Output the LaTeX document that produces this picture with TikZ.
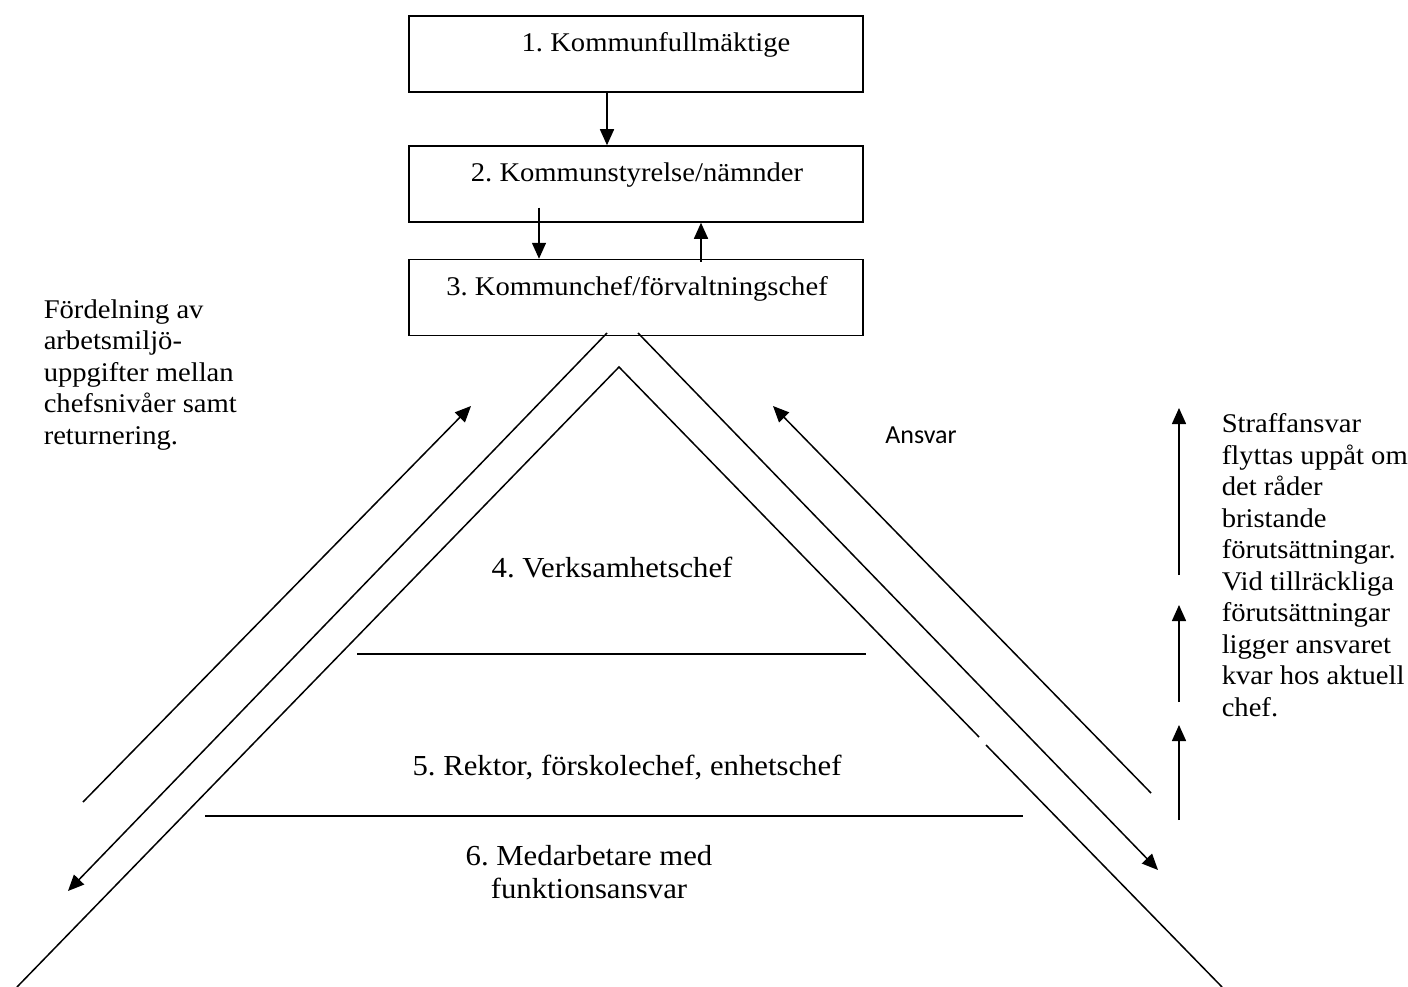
\documentclass[tikz,border=0pt]{standalone}
\usepackage{fontspec}
\setmainfont{Liberation Serif}[FakeStretch=1.06]
\newfontfamily\ansvarfont{Carlito}
\usetikzlibrary{arrows.meta}

\tikzset{
  levelbox/.style={draw, line width=1.5pt, minimum width=454pt, minimum height=76pt, inner sep=0pt},
  boxtext/.style={inner sep=0pt, anchor=base, font=\fontsize{27}{31.5}\selectfont},
  leveltext/.style={inner sep=0pt, anchor=base, align=center, font=\fontsize{29}{33}\selectfont},
  sidetext/.style={inner sep=0pt, align=left, anchor=north west, font=\fontsize{27}{31.5}\selectfont},
  flow/.style={-{Triangle[length=16pt,width=14pt]}, line width=1.5pt},
}

\begin{document}
\frenchspacing
\begin{tikzpicture}[x=1pt, y=-1pt, line width=1.5pt]
  \useasboundingbox (0,0) rectangle (1408,987);

  %% Chain of boxes at the top
  % Boxes
  \node[levelbox] (kf) at (636,54) {};
  \node[levelbox] (ks) at (636,184) {};
  \node[levelbox] (kc) at (636,297.5) {};

  % Box texts
  \node[boxtext] (kftext) at (656,52) {1. Kommunfullmäktige};
  \node[boxtext] (kstext) at (637,182) {2. Kommunstyrelse/nämnder};
  \node[boxtext] (kctext) at (637,295) {3. Kommunchef/förvaltningschef};

  % Arrows between the boxes
  \draw[flow] ([xshift=-29pt]kf.south) -- ([xshift=-29pt]ks.north);
  \draw[flow] ([xshift=-97pt,yshift=15pt]ks.south) -- ([xshift=-97pt]kc.north);
  \draw[flow] ([xshift=65pt,yshift=-3pt]kc.north) -- ([xshift=65pt]ks.south);

  %% Pyramid
  \coordinate (apex) at (619,367);
  \draw (17,987) -- (apex) -- (979,737);
  \draw (986,745) -- (1222,987);

  % Level lines
  \draw (357,654) -- (866,654);
  \draw (205,816) -- (1023,816);

  % Level texts
  \node[leveltext] (vc) at (612,577) {4. Verksamhetschef};
  \node[leveltext] (rk) at (627,775) {5. Rektor, förskolechef, enhetschef};
  \node[leveltext, anchor=north] (ma) at (589,845) {6. Medarbetare med\\funktionsansvar};

  %% Slanted arrows outside the pyramid
  % Left side
  \draw[flow] (83,802) -- (471,406);
  \draw[flow] (607,333) -- (68,891);
  % Right side
  \draw[flow] (638,333) -- (1158,870);
  \draw[flow] (1151,793) -- (773,406);

  % Vertical arrows on the right
  \draw[flow] (1179,575) -- (1179,408);
  \draw[flow] (1179,702) -- (1179,605);
  \draw[flow] (1179,820) -- (1179,725);

  %% Side texts
  \node[sidetext] (fordelning) at (43,299) {Fördelning av\\arbetsmiljö-\\uppgifter mellan\\chefsnivåer samt\\returnering.};
  \node[inner sep=0pt, anchor=base, font=\ansvarfont\fontsize{26}{30}\selectfont] (ansvar) at (921,443) {Ansvar};
  \node[sidetext] (straff) at (1221,413) {Straffansvar\\flyttas uppåt om\\det råder\\bristande\\förutsättningar.\\Vid tillräckliga\\förutsättningar\\ligger ansvaret\\kvar hos aktuell\\chef.};

\end{tikzpicture}
\end{document}
